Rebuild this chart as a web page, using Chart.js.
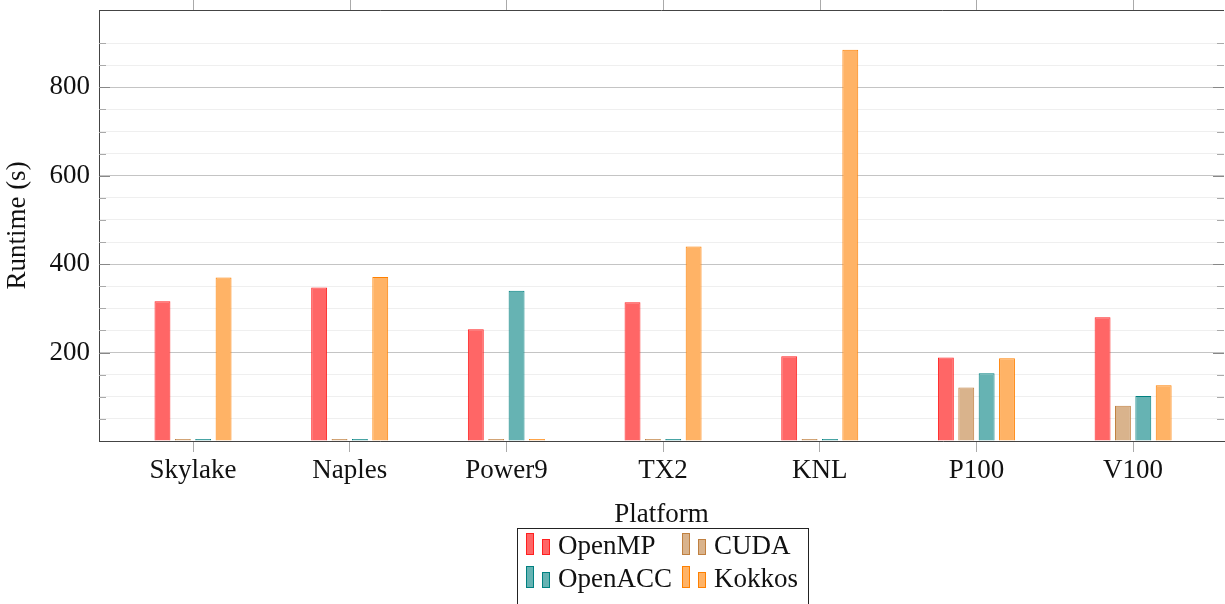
<!DOCTYPE html>
<html>
<head>
<meta charset="utf-8">
<script src="https://cdn.jsdelivr.net/npm/chart.js@4.4.1/dist/chart.umd.min.js"></script>
<style>
  body { margin: 0; background: #fff; }
  #wrap { position: relative; width: 1225px; height: 604px; }
  #legend {
    position: absolute; left: 517px; top: 528px; width: 292px; height: 80px;
    border: 1px solid #222; box-sizing: border-box;
    font-family: "Liberation Serif", serif; font-size: 27px; color: #111;
  }
  .item { position: absolute; width: 150px; height: 30px; }
  .sw { position: absolute; width: 8px; box-sizing: border-box; border: 1px solid; }
  .txt { position: absolute; left: 32px; top: 3px; line-height: 27px; white-space: nowrap; }
</style>
</head>
<body>
<div id="wrap">
  <canvas id="myChart" width="1225" height="604"></canvas>
  <div id="legend"></div>
</div>
<script>
//Runtime per platform

const platforms = ["Skylake", "Naples", "Power9", "TX2", "KNL", "P100", "V100"]; //x-axis labels
const openmp = [316, 347, 253, 314, 192, 189, 280];
const cuda = [0, 0, 0, 0, 0, 121, 80];
const openacc = [0, 0, 340, 0, 0, 153, 102];
const kokkos = [370, 371, 0, 440, 885, 187, 126];
const yMax = 975;

const seriesNames = ["OpenMP", "CUDA", "OpenACC", "Kokkos"];
const fills = ["#ff6666", "#d9b38c", "#66b3b3", "#ffb366"];
const borders = ["#ff2020", "#c08040", "#008080", "#ff8000"];

//turn a plain array into {x, y} points for the linear x axis
function points(arr) {
  return arr.map((v, i) => ({ x: i, y: v }));
}

//axis frame: top border, ticks above it, inward ticks on left and right
const frameTicks = {
  id: "frameTicks",
  afterDraw(chart) {
    const { ctx, chartArea: a, scales } = chart;
    const x = scales.x;
    const y = scales.y;
    ctx.save();
    ctx.lineWidth = 1;
    ctx.strokeStyle = "#444";
    ctx.beginPath();
    ctx.moveTo(a.left, a.top + 0.5);
    ctx.lineTo(a.right, a.top + 0.5);
    ctx.stroke();

    ctx.strokeStyle = "#aaa";
    x.ticks.forEach((t) => {
      const px = Math.round(x.getPixelForValue(t.value)) + 0.5;
      ctx.beginPath();
      ctx.moveTo(px, a.top);
      ctx.lineTo(px, a.top - 10);
      ctx.stroke();
    });

    y.ticks.forEach((t) => {
      if (t.value <= 0 || t.value >= yMax) return;
      const major = t.value % 200 === 0;
      const len = major ? 11 : 7;
      const py = Math.round(y.getPixelForValue(t.value)) + 0.5;
      ctx.strokeStyle = major ? "#888" : "#aaa";
      ctx.beginPath();
      ctx.moveTo(a.left, py);
      ctx.lineTo(a.left + len, py);
      ctx.moveTo(a.right, py);
      ctx.lineTo(a.right - len, py);
      ctx.stroke();
    });
    ctx.restore();
  },
};

function createChart() {
  Chart.defaults.font.family = '"Liberation Serif", serif';
  Chart.defaults.font.size = 27;
  Chart.defaults.color = "#111";

  const series = [openmp, cuda, openacc, kokkos];
  const ctx = document.getElementById("myChart");
  const myChart = new Chart(ctx, {
    type: "bar",
    data: {
      datasets: series.map((arr, i) => ({
        label: seriesNames[i],
        data: points(arr),
        backgroundColor: fills[i],
        borderColor: borders[i],
        borderWidth: 1,
        minBarLength: 2,
        categoryPercentage: 0.52,
        barPercentage: 0.78,
      })),
    },
    options: {
      responsive: false,
      animation: false,
      layout: { padding: { top: 10, right: 1, bottom: 73, left: 0 } },
      scales: {
        x: {
          type: "linear",
          min: -0.6,
          max: 6.58,
          offset: false,
          afterBuildTicks: (scale) => {
            scale.ticks = platforms.map((_, i) => ({ value: i }));
          },
          afterFit: (scale) => {
            scale.height = 90;
            scale.paddingLeft = 0;
            scale.paddingRight = 0;
          },
          ticks: {
            padding: 3,
            maxRotation: 0,
            autoSkip: false,
            callback: (v) => platforms[v],
          },
          grid: { offset: false, drawOnChartArea: false, tickLength: 11, color: "#aaa" },
          border: { color: "#444", width: 1 },
          title: { display: true, text: "Platform", padding: { top: 0, bottom: 0 } },
        },
        y: {
          min: 0,
          max: yMax,
          afterFit: (scale) => {
            scale.width = 99;
            scale.paddingTop = 0;
            scale.paddingBottom = 0;
          },
          ticks: {
            stepSize: 50,
            padding: 9,
            autoSkip: false,
            callback: (v) => (v > 0 && v % 200 === 0 ? v : ""),
          },
          grid: {
            drawTicks: false,
            color: (c) => {
              const v = c.tick.value;
              if (v % 200 === 0) return "#c4c4c4";
              if (v % 50 === 0) return "#efefef";
              return "rgba(0,0,0,0)";
            },
          },
          border: { color: "#444", width: 1 },
          title: { display: true, text: "Runtime (s)", padding: { top: 2, bottom: 2 } },
        },
      },
      plugins: {
        legend: { display: false },
        tooltip: { enabled: false },
      },
    },
    plugins: [frameTicks],
  });

  //legend in two columns, two swatches per entry like the original
  const legend = document.getElementById("legend");
  myChart.data.datasets.forEach((ds, i) => {
    const item = document.createElement("div");
    item.className = "item";
    item.style.left = (i % 2 === 0 ? 8 : 164) + "px";
    item.style.top = (i < 2 ? 0 : 33) + "px";
    const a = document.createElement("span");
    a.className = "sw";
    a.style.cssText = "left:0;top:4px;height:22px;background:" + ds.backgroundColor + ";border-color:" + ds.borderColor;
    const b = document.createElement("span");
    b.className = "sw";
    b.style.cssText = "left:16px;top:10px;height:16px;background:" + ds.backgroundColor + ";border-color:" + ds.borderColor;
    const t = document.createElement("span");
    t.className = "txt";
    t.textContent = ds.label;
    item.append(a, b, t);
    legend.appendChild(item);
  });
}

createChart();
</script>
</body>
</html>
